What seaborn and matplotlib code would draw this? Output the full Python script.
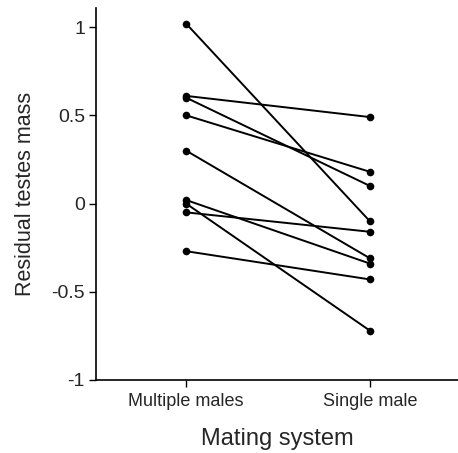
import matplotlib
matplotlib.use("Agg")
import matplotlib.pyplot as plt
import seaborn as sns
import pandas as pd

categories = ["Multiple males", "Single male"]
multiple_males = [1.02, 0.61, 0.60, 0.50, 0.30, 0.02, 0.00, -0.05, -0.27]
single_male = [-0.10, 0.49, 0.10, 0.18, -0.31, -0.34, -0.72, -0.16, -0.43]
yticks = [-1, -0.5, 0, 0.5, 1]
ytick_labels = ["-1", "-0.5", "0", "0.5", "1"]

rows = []
for i, (m, s) in enumerate(zip(multiple_males, single_male)):
    rows.append({"pair": i, "system": categories[0], "value": m})
    rows.append({"pair": i, "system": categories[1], "value": s})
df = pd.DataFrame(rows)
df["x"] = df["system"].map({c: i for i, c in enumerate(categories)})

sns.set_style("ticks")
plt.rcParams["font.family"] = ["Liberation Sans", "DejaVu Sans"]

fig = plt.figure(figsize=(4.58, 4.53), dpi=100)
ax = fig.add_axes([96 / 458, 73 / 453, 362 / 458, 372 / 453])

sns.lineplot(data=df, x="x", y="value", units="pair", estimator=None,
             color="black", marker="o", markersize=5.5, markeredgewidth=0,
             linewidth=1.4, ax=ax, legend=False)

ax.set_xlim(-0.49, 1.48)
ax.set_ylim(-1, 1.108)
ax.set_xticks(range(len(categories)))
ax.set_xticklabels(categories, fontsize=13)
ax.set_yticks(yticks)
ax.set_yticklabels(ytick_labels, fontsize=14)
ax.tick_params(axis="both", direction="out", length=5, width=1, color="black", pad=4)
ax.tick_params(axis="y", pad=3)
ax.set_xlabel("Mating system", fontsize=17, labelpad=13)
ax.set_ylabel("Residual testes mass", fontsize=15.5, labelpad=11)
for side in ["top", "right"]:
    ax.spines[side].set_visible(False)
for side in ["left", "bottom"]:
    ax.spines[side].set_linewidth(1.2)
    ax.spines[side].set_color("black")

fig.savefig("out.png", dpi=100)
